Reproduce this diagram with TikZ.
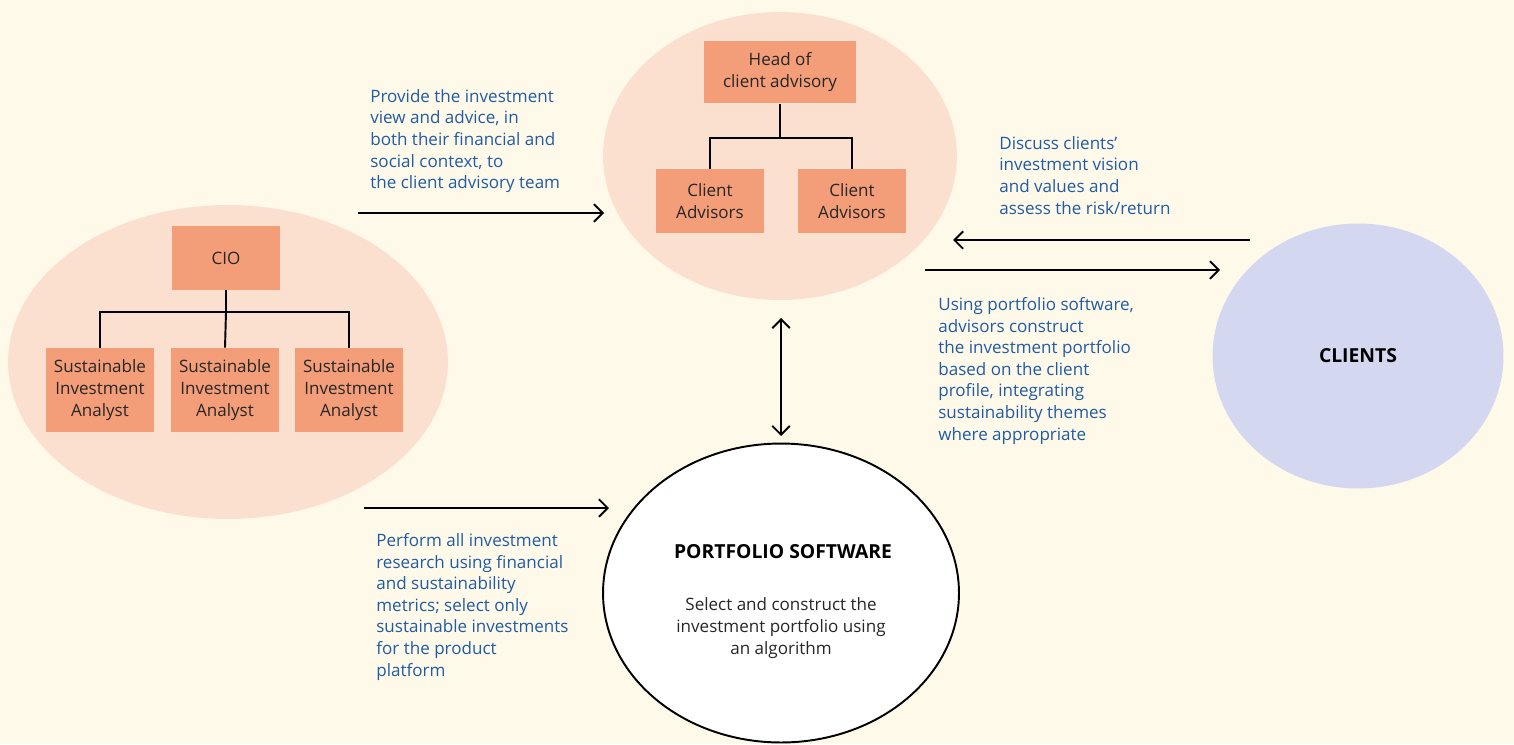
\documentclass[tikz,border=0pt]{standalone}
\usepackage{fontspec}
\setmainfont{Open Sans}
\usetikzlibrary{arrows.meta,shapes.geometric}
\definecolor{cream}{RGB}{254,249,232}
\definecolor{peach}{RGB}{251,224,208}
\definecolor{salmon}{RGB}{243,158,121}
\definecolor{lilac}{RGB}{211,216,240}
\definecolor{inkblue}{RGB}{32,92,164}
\begin{document}
\begin{tikzpicture}[x=0.02cm,y=-0.02cm,
    every node/.style={font=\fontsize{9.7}{12.3}\selectfont},
    blob/.style={ellipse,inner sep=0pt},
    role/.style={fill=salmon,inner sep=0pt,minimum width=2.16cm,minimum height=1.68cm,align=center,text=black!85},
    note/.style={anchor=north west,inner sep=0pt,align=left,text=inkblue},
    link/.style={line width=1.1pt},
    flow/.style={line width=1.1pt,-{Straight Barb[length=5pt,width=10pt]}}]
  \useasboundingbox (0,0) rectangle (1514,744);
  \fill[cream] (0,0) rectangle (1514,744);
  % groups
  \draw
    (228,362) node[blob,fill=peach,minimum width=8.8cm,minimum height=6.28cm] (research){}
    (780,156) node[blob,fill=peach,minimum width=7.08cm,minimum height=5.76cm] (advisory){}
    (1358,356) node[blob,fill=lilac,minimum width=5.82cm,minimum height=5.3cm] (clients){}
    (781,593) node[blob,draw,line width=1.1pt,fill=white,minimum width=7.12cm,minimum height=5.98cm] (software){};
  % research team
  \draw
    (226,258) node[role,minimum height=1.28cm] (cio){CIO}
    (100,390) node[role] (sia1){Sustainable\\Investment\\Analyst}
    (225,390) node[role] (sia2){Sustainable\\Investment\\Analyst}
    (349,390) node[role] (sia3){Sustainable\\Investment\\Analyst};
  \begin{scope}[link]
    \draw (cio.south) -- (cio.south |- 0,312) -| (sia1.north);
    \draw (cio.south |- 0,312) -- (sia2.north);
    \draw (cio.south |- 0,312) -| (sia3.north);
  \end{scope}
  % client advisory team
  \draw
    (780,72) node[role,minimum width=3.04cm,minimum height=1.26cm] (head){Head of\\client advisory}
    (710,201) node[role,minimum height=1.28cm] (ca1){Client\\Advisors}
    (852,201) node[role,minimum height=1.28cm] (ca2){Client\\Advisors};
  \begin{scope}[link]
    \draw (head.south) -- (head.south |- 0,138) -| (ca1.north);
    \draw (head.south |- 0,138) -| (ca2.north);
  \end{scope}
  % labels
  \node[font=\fontsize{11}{13}\selectfont\bfseries] (clientstxt) at (clients) {CLIENTS};
  \node[font=\fontsize{11}{13}\selectfont\bfseries] (pstitle) at (783,552) {PORTFOLIO SOFTWARE};
  \node[align=center,text=black!85] (pstext) at (781,628) {Select and construct the\\investment portfolio using\\an algorithm};
  \node[note] (n1) at (370,89) {Provide the investment\\view and advice, in\\both their financial and\\social context, to\\the client advisory team};
  \node[note] (n2) at (999,136) {Discuss clients’\\investment vision\\and values and\\assess the risk/return};
  \node[note] (n3) at (938,297) {Using portfolio software,\\advisors construct\\the investment portfolio\\based on the client\\profile, integrating\\sustainability themes\\where appropriate};
  \node[note] (n4) at (376,533) {Perform all investment\\research using financial\\and sustainability\\metrics; select only\\sustainable investments\\for the product\\platform};
  % arrows
  \coordinate (a1) at (358,213);
  \coordinate (b1) at (604,213);
  \coordinate (a2) at (364,508);
  \coordinate (b2) at (609,508);
  \coordinate (a3) at (1250,240);
  \coordinate (b3) at (953,240);
  \coordinate (a4) at (925,270);
  \coordinate (b4) at (1220,270);
  \coordinate (a5) at (781,318);
  \coordinate (b5) at (781,436);
  \begin{scope}[flow]
    \draw (a1) -- (b1);
    \draw (a2) -- (b2);
    \draw (a3) -- (b3);
    \draw (a4) -- (b4);
    \draw[{Straight Barb[length=5pt,width=10pt]}-{Straight Barb[length=5pt,width=10pt]}] (a5) -- (b5);
  \end{scope}
\end{tikzpicture}
\end{document}
